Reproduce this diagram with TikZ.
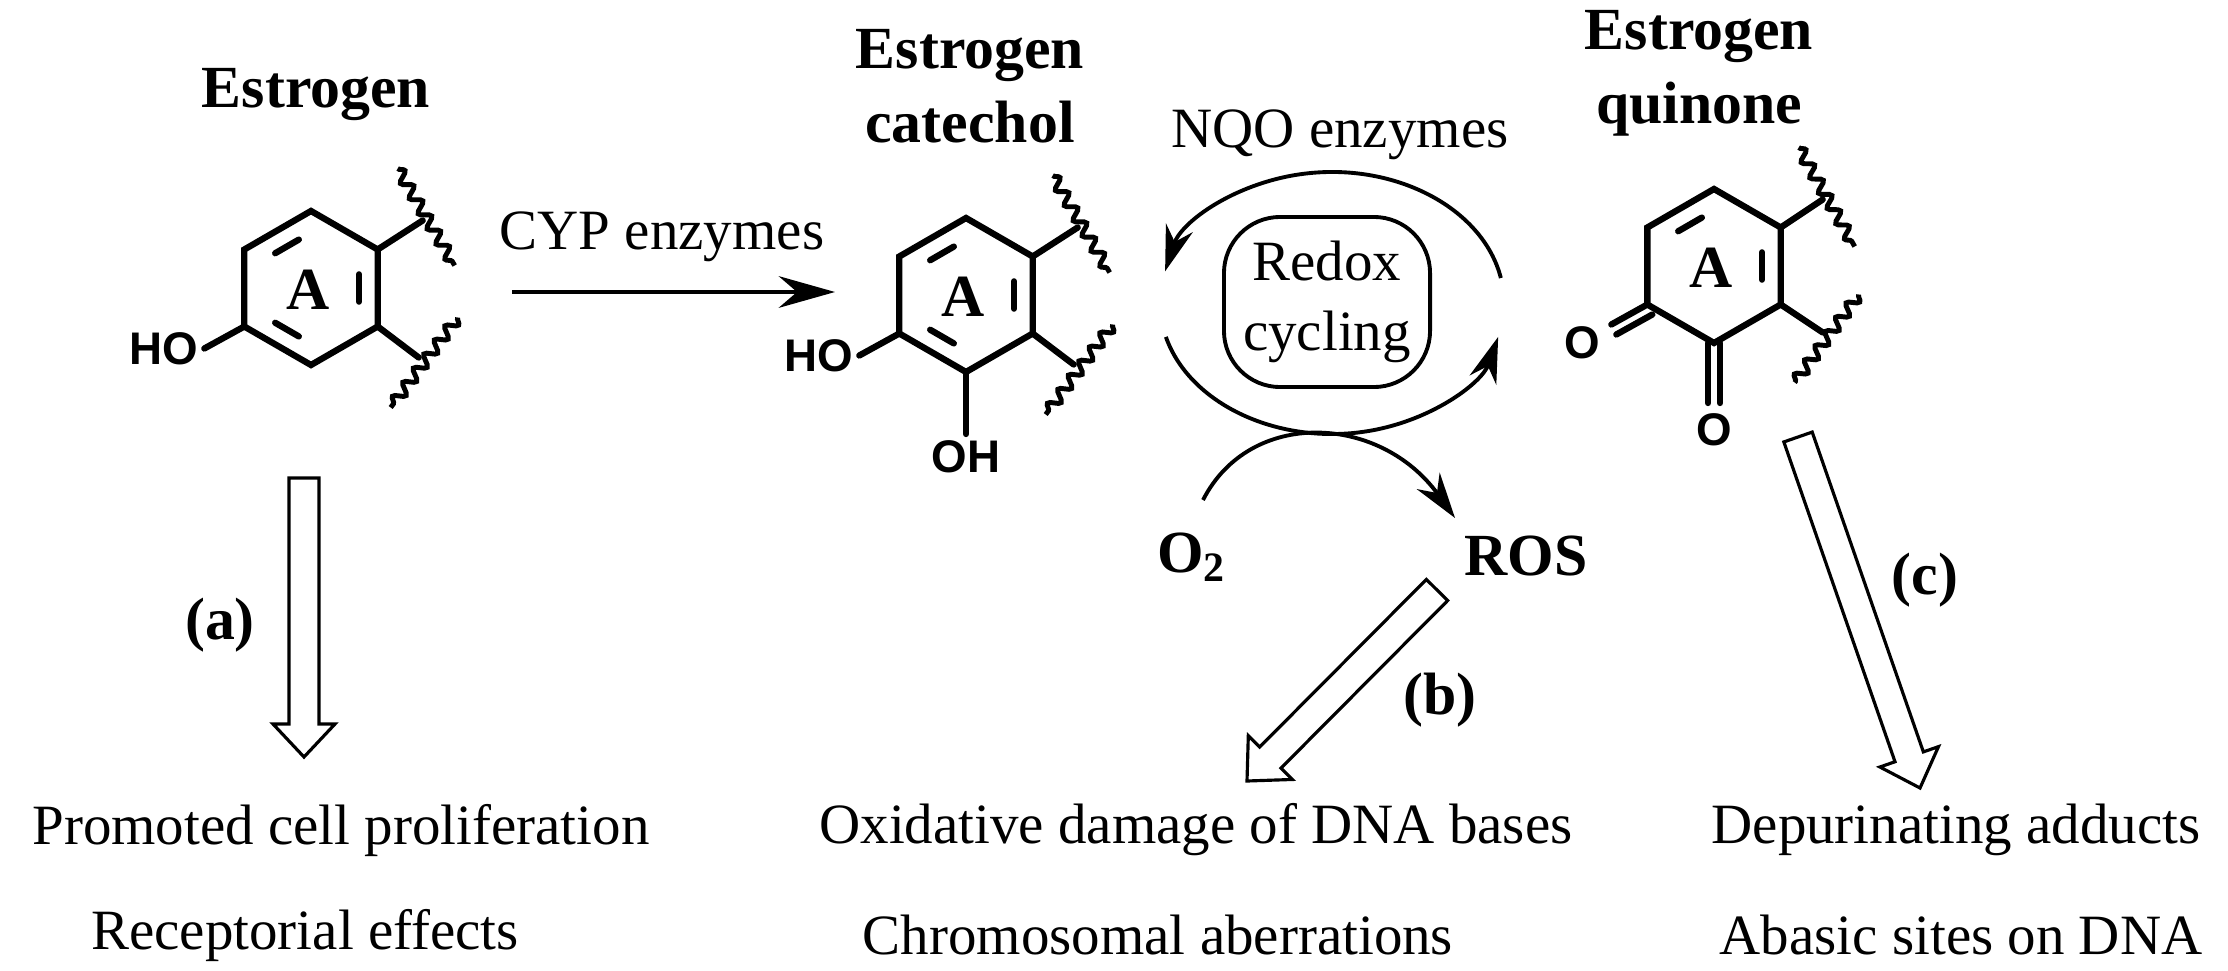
\documentclass[tikz,border=0pt]{standalone}
\usepackage{fontspec}
\setmainfont{Liberation Serif}
\newfontfamily\chemfont{Liberation Sans}
\usetikzlibrary{calc,decorations.pathmorphing,arrows.meta}
\tikzset{%
  bond/.style={line width=1.8pt,line cap=round},
  wavy/.style={line width=1.4pt,decorate,decoration={snake,amplitude=1.5pt,segment length=5pt}},
  lbl/.style={font=\fontsize{16.2}{20}\selectfont,inner sep=1pt},
  title/.style={font=\fontsize{17}{21}\selectfont\bfseries,align=center,inner sep=1pt},
  atom/.style={font=\fontsize{13}{15}\selectfont\chemfont\bfseries,inner sep=1pt},
  hol/.style={draw,line width=0.9pt,line join=miter},
  cyc/.style={line width=1.1pt,-{Stealth[length=13pt,width=8pt]}}
}
% hexagon: vertices t, ur, lr, b, ll, ul around center #2
\newcommand\hexring[2]{%
  \coordinate (#1-c) at #2;
  \foreach \n/\a in {t/-90,ur/-30,lr/30,b/90,ll/150,ul/210}
    \coordinate (#1-\n) at ($(#1-c)+(\a:77)$);
  \draw[bond] (#1-t) -- (#1-ur) -- (#1-lr) -- (#1-b) -- (#1-ll) -- (#1-ul) -- cycle;
  \node[font=\fontsize{17}{21}\selectfont\bfseries] at ($(#1-c)+(-3,2)$) {A};
}
\newcommand\inner[3]{%
  \draw[bond,shorten >=4pt,shorten <=4pt] ($(#1-c)!0.72!(#1-#2)$) -- ($(#1-c)!0.72!(#1-#3)$);
}
% open block arrow from #1 to #2
\newcommand\hollowarrow[2]{%
  \coordinate (hb) at ($(#2)!0.33cm!(#1)$);
  \draw[hol] ($(#1)!0.15cm!90:(#2)$) -- ($(hb)!0.15cm!-90:(#1)$) -- ($(hb)!0.31cm!-90:(#1)$)
    -- (#2) -- ($(hb)!0.31cm!90:(#1)$) -- ($(hb)!0.15cm!90:(#1)$) -- ($(#1)!0.15cm!-90:(#2)$) -- cycle;
}
\begin{document}
\begin{tikzpicture}[x=0.01cm,y=-0.01cm]
  \useasboundingbox (0,0) rectangle (2228,970);

  % estrogen
  \hexring{es}{(311,288)}
  \inner{es}{t}{ul} \inner{es}{ur}{lr} \inner{es}{b}{ll}
  \draw[bond] (es-ur) -- ++(45,-29) coordinate (es-s1);
  \draw[wavy] ($(es-s1)+(-25,-52)$) -- ($(es-s1)+(32,45)$);
  \draw[bond] (es-lr) -- ++(41,31) coordinate (es-s2);
  \draw[wavy] ($(es-s2)+(39,-40)$) -- ($(es-s2)+(-28,50)$);
  \draw[bond] (es-ll) -- ++(-40,22) node[atom,anchor=east] (es-oh) {HO};
  \node[title] (tEs) at (316,95) {Estrogen};

  % catechol
  \hexring{ca}{(966,295)}
  \inner{ca}{t}{ul} \inner{ca}{ur}{lr} \inner{ca}{b}{ll}
  \draw[bond] (ca-ur) -- ++(45,-29) coordinate (ca-s1);
  \draw[wavy] ($(ca-s1)+(-25,-52)$) -- ($(ca-s1)+(32,45)$);
  \draw[bond] (ca-lr) -- ++(41,31) coordinate (ca-s2);
  \draw[wavy] ($(ca-s2)+(39,-40)$) -- ($(ca-s2)+(-28,50)$);
  \draw[bond] (ca-ll) -- ++(-40,22) node[atom,anchor=east] (ca-oh1) {HO};
  \draw[bond] (ca-b) -- ++(0,62) node[atom,anchor=north] (ca-oh2) {OH};
  \node[title] (tCa) at (970,86) {Estrogen\\catechol};

  % quinone
  \hexring{qu}{(1714,266)}
  \inner{qu}{t}{ul} \inner{qu}{ur}{lr}
  \draw[bond] (qu-ur) -- ++(42,-28) coordinate (qu-s1);
  \draw[wavy] ($(qu-s1)+(-24,-52)$) -- ($(qu-s1)+(32,47)$);
  \draw[bond] (qu-lr) -- ++(42,28) coordinate (qu-s2);
  \draw[wavy] ($(qu-s2)+(36,-38)$) -- ($(qu-s2)+(-28,50)$);
  \draw[bond] (qu-ll) -- ++(-36,20);
  \draw[bond] ($(qu-ll)+(5,10)$) -- ++(-36,20);
  \node[atom] (qu-o1) at (1582,343) {O};
  \draw[bond] ($(qu-b)+(-6,0)$) -- ++(0,60);
  \draw[bond] ($(qu-b)+(6,0)$) -- ++(0,60);
  \node[atom] (qu-o2) at (1714,430) {O};
  \node[title] (tQu) at (1699,73) {Estrogen\\quinone};

  % CYP step
  \coordinate (cypS) at (512,292);
  \coordinate (cypE) at (835,292);
  \draw[cyc,-{Stealth[length=16pt,width=9pt]}] (cypS) -- (cypE);
  \node[lbl] (cyp) at (662,237) {CYP enzymes};

  % redox cycle
  \coordinate (rc) at (1332,303);
  \draw[cyc] ($(rc)+(-11:172 and 131)$) arc[start angle=-11,end angle=-166,x radius=172,y radius=131];
  \draw[cyc] ($(rc)+(165:172 and 131)$) arc[start angle=165,end angle=15,x radius=172,y radius=131];
  \node[lbl,draw,line width=1.1pt,rounded corners=16pt,align=center,
        minimum width=2.06cm,minimum height=1.7cm] (redox) at (1327,302) {Redox\\cycling};
  \node[lbl] (nqo) at (1340,135) {NQO enzymes};
  \node[title] (o2) at (1192,557) {O\textsubscript{2}};
  \node[title] (ros) at (1526,556) {ROS};
  \coordinate (o2S) at (1203,500);
  \coordinate (rosE) at (1455,518);
  \draw[cyc] (o2S) .. controls (1250,408) and (1380,414) .. (rosE);

  % hollow arrows
  \coordinate (aS) at (304,478); \coordinate (aE) at (304,757);
  \coordinate (bS) at (1437,590); \coordinate (bE) at (1247,781);
  \coordinate (cS) at (1798,437); \coordinate (cE) at (1920,788);
  \hollowarrow{aS}{aE}
  \hollowarrow{bS}{bE}
  \hollowarrow{cS}{cE}
  \node[title] (la) at (220,625) {(a)};
  \node[title] (lb) at (1440,700) {(b)};
  \node[title] (lc) at (1925,580) {(c)};

  % outcomes
  \node[lbl] (oa1) at (341,830) {Promoted cell proliferation};
  \node[lbl] (oa2) at (305,935) {Receptorial effects};
  \node[lbl] (ob1) at (1196,830) {Oxidative damage of DNA bases};
  \node[lbl] (ob2) at (1158,935) {Chromosomal aberrations};
  \node[lbl] (oc1) at (1956,830) {Depurinating adducts};
  \node[lbl] (oc2) at (1961,935) {Abasic sites on DNA};
\end{tikzpicture}
\end{document}
